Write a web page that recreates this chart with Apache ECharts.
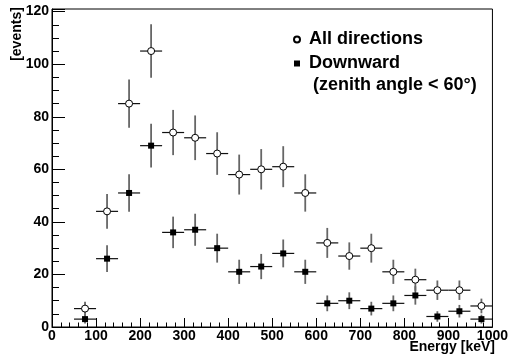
<!DOCTYPE html>
<html>
<head>
<meta charset="utf-8">
<script src="https://cdn.jsdelivr.net/npm/echarts@6/dist/echarts.min.js"></script>
<style>
  html, body { margin: 0; padding: 0; background: #fff; }
  #main { width: 511px; height: 360px; }
</style>
</head>
<body>
<div id="main"></div>
<script>
// bin centres (keV), 50 keV wide bins
const energies = [75, 125, 175, 225, 275, 325, 375, 425, 475, 525, 575, 625, 675, 725, 775, 825, 875, 925, 975];
const binHalfWidth = 25;

// all directions (open circles)
const allCounts = [7, 44, 85, 105, 74, 72, 66, 58, 60, 61, 51, 32, 27, 30, 21, 18, 14, 14, 8];
const allErrors = [2.6, 6.6, 9.2, 10.2, 8.6, 8.5, 8.1, 7.6, 7.7, 7.8, 7.1, 5.7, 5.2, 5.5, 4.6, 4.2, 3.7, 3.7, 2.8];

// downward, zenith angle < 60 deg (filled squares)
const downCounts = [3, 26, 51, 69, 36, 37, 30, 21, 23, 28, 21, 9, 10, 7, 9, 12, 4, 6, 3];
const downErrors = [1.7, 5.1, 7.1, 8.3, 6.0, 6.1, 5.5, 4.6, 4.8, 5.3, 4.6, 3.0, 3.2, 2.6, 3.0, 3.5, 2.0, 2.4, 1.7];

const FONT = '"Liberation Sans", Arial, Helvetica, sans-serif';

function errorBars(params, api) {
  const x = api.value(0);
  const y = api.value(1);
  const e = api.value(2);
  const l = api.coord([x - binHalfWidth, y]);
  const r = api.coord([x + binHalfWidth, y]);
  const t = api.coord([x, y + e]);
  const b = api.coord([x, y - e]);
  return {
    type: 'group',
    children: [
      { type: 'line', shape: { x1: l[0], y1: l[1], x2: r[0], y2: r[1] }, style: { stroke: '#111', lineWidth: 1.2 } },
      { type: 'line', shape: { x1: t[0], y1: t[1], x2: b[0], y2: b[1] }, style: { stroke: '#666', lineWidth: 1.8 } }
    ]
  };
}

const allPoints = energies.map((e, i) => [e, allCounts[i], allErrors[i]]);
const downPoints = energies.map((e, i) => [e, downCounts[i], downErrors[i]]);

const myChart = echarts.init(document.getElementById('main'));

const option = {
  animation: false,
  backgroundColor: '#fff',
  grid: {
    left: 52, right: 16, top: 9, bottom: 33,
    show: true, borderColor: '#000', borderWidth: 1, backgroundColor: 'transparent'
  },
  xAxis: {
    type: 'value',
    min: 0,
    max: 1000,
    interval: 100,
    axisLine: { lineStyle: { color: '#000', width: 1 } },
    axisTick: { inside: true, length: 9, lineStyle: { color: '#000' } },
    minorTick: { show: true, splitNumber: 5, length: 4.5, lineStyle: { color: '#000' } },
    splitLine: { show: false },
    axisLabel: {
      color: '#000', fontFamily: FONT, fontWeight: 'bold', fontSize: 14, margin: 2,
      formatter: (v) => String(v)
    }
  },
  yAxis: [
    {
      type: 'value',
      min: 0,
      max: 121,
      interval: 20,
      axisLine: { lineStyle: { color: '#000', width: 1 } },
      axisTick: { inside: true, length: 13, lineStyle: { color: '#000' } },
      splitLine: { show: false },
      axisLabel: {
        color: '#000', fontFamily: FONT, fontWeight: 'bold', fontSize: 14, margin: 3,
        formatter: (v) => (v % 20 === 0 ? String(v) : '')
      }
    },
    {
      // minor ticks every 5 events
      type: 'value',
      position: 'left',
      min: 0,
      max: 121,
      interval: 5,
      axisLine: { show: false },
      axisTick: { inside: true, length: 7, lineStyle: { color: '#000' } },
      splitLine: { show: false },
      axisLabel: { show: false }
    }
  ],
  legend: {
    left: 293,
    top: 27.5,
    orient: 'vertical',
    padding: 0,
    itemGap: 0,
    itemWidth: 6,
    itemHeight: 6,
    selectedMode: false,
    data: ['All directions', 'Downward'],
    textStyle: { color: '#000', fontFamily: FONT, fontWeight: 'bold', fontSize: 18, lineHeight: 24, padding: [0, 0, 0, 4] }
  },
  graphic: [
    {
      type: 'text', x: 313, y: 85,
      style: { text: '(zenith angle < 60°)', fill: '#000', font: 'bold 18px ' + FONT, verticalAlign: 'middle' }
    },
    {
      type: 'text', x: 17, y: 34, rotation: Math.PI / 2,
      style: { text: '[events]', fill: '#000', font: 'bold 14px ' + FONT, align: 'center', verticalAlign: 'middle' }
    },
    {
      type: 'text', x: 495, y: 347,
      style: { text: 'Energy [keV]', fill: '#000', font: 'bold 14px ' + FONT, align: 'right', verticalAlign: 'middle' }
    }
  ],
  series: [
    { type: 'custom', renderItem: errorBars, data: allPoints, z: 2, encode: { x: 0, y: 1 } },
    { type: 'custom', renderItem: errorBars, data: downPoints, z: 2, encode: { x: 0, y: 1 } },
    {
      name: 'All directions',
      type: 'scatter',
      symbol: 'circle',
      symbolSize: 7,
      data: allPoints.map((p) => [p[0], p[1]]),
      itemStyle: { color: '#fff', borderColor: '#000', borderWidth: 1, opacity: 1 },
      z: 5
    },
    {
      name: 'Downward',
      type: 'scatter',
      symbol: 'rect',
      symbolSize: 6,
      data: downPoints.map((p) => [p[0], p[1]]),
      itemStyle: { color: '#000', opacity: 1 },
      z: 5
    }
  ]
};

myChart.setOption(option);
</script>
</body>
</html>
